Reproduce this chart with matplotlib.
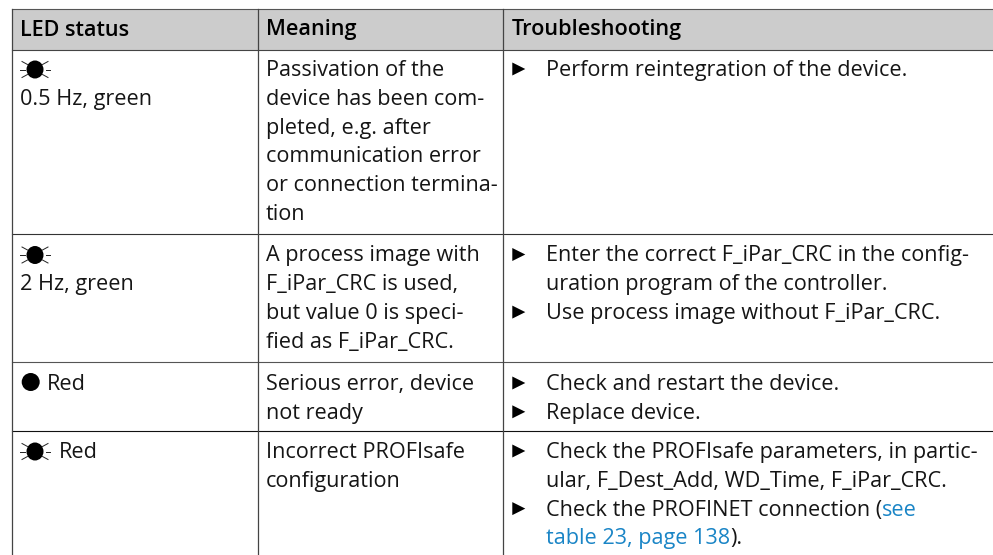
"""LED status table rebuilt as real text on a pixel-sized axes."""

import matplotlib

matplotlib.use("Agg")
import matplotlib.pyplot as plt
from matplotlib.patches import Ellipse, Polygon, Rectangle

plt.rcParams["font.family"] = ["Open Sans", "DejaVu Sans"]

WIDTH, HEIGHT = 993, 555
FONT_SIZE = 15.6
LINE_STEP = 28.8
TEXT_COLOR = "#151515"
LINK = "#1a85c6"

HEADERS = ["LED status", "Meaning", "Troubleshooting"]
STATUS = [
    ["", "0.5 Hz, green"],
    ["", "2 Hz, green"],
    ["Red"],
    ["Red"],
]
MEANING = [
    ["Passivation of the", "device has been com-", "pleted, e.g. after",
     "communication error", "or connection termina-", "tion"],
    ["A process image with", "F_iPar_CRC is used,", "but value 0 is speci-", "fied as F_iPar_CRC."],
    ["Serious error, device", "not ready"],
    ["Incorrect PROFIsafe", "configuration"],
]
# (starts with bullet, text)
TROUBLE = [
    [(True, "Perform reintegration of the device.")],
    [(True, "Enter the correct F_iPar_CRC in the config-"),
     (False, "uration program of the controller."),
     (True, "Use process image without F_iPar_CRC.")],
    [(True, "Check and restart the device."), (True, "Replace device.")],
    [(True, "Check the PROFIsafe parameters, in partic-"),
     (False, "ular, F_Dest_Add, WD_Time, F_iPar_CRC."),
     (True, "Check the PROFINET connection (")],
]
LED_BLINK = [True, True, False, True]

COL_X = [11.5, 257.5, 503]
ROW_Y = [9, 50, 234, 361.7, 431]
ROW_COLORS = ["#555555", "#444444", "#333333", "#555555", "#111111"]
FIRST_BASE = [76, 261.5, 390, 458]
TEXT_PAD = 8.5
BULLET_PAD = 9.3
TROUBLE_PAD = 42.5


def draw_led(ax, x, y, blink):
    if not blink:
        ax.add_patch(Ellipse((x, y), 18, 18, color="black", lw=0))
        return
    ax.add_patch(Ellipse((x, y), 17, 18, color="black", lw=0))
    for sx in (-1, 1):
        ax.plot([x + sx * 10.5, x + sx * 15], [y, y], color="#222222", lw=0.7)
        ax.plot([x + sx * 7.5, x + sx * 13], [y - 5, y - 8], color="#222222", lw=0.7)
        ax.plot([x + sx * 7.5, x + sx * 13], [y + 5, y + 8], color="#222222", lw=0.7)


def put_text(ax, x, y, label, color=TEXT_COLOR, **kwargs):
    return ax.text(x, y, label, fontsize=FONT_SIZE, color=color, va="baseline", **kwargs)


def main():
    fig = plt.figure(figsize=(WIDTH / 100, HEIGHT / 100), dpi=100)
    ax = fig.add_axes([0, 0, 1, 1])
    ax.set_xlim(0, WIDTH)
    ax.set_ylim(HEIGHT, 0)
    ax.axis("off")

    ax.add_patch(Rectangle((COL_X[0], ROW_Y[0]), WIDTH - COL_X[0], ROW_Y[1] - ROW_Y[0],
                           facecolor="#cccccc", edgecolor="none"))
    for y, color in zip(ROW_Y, ROW_COLORS):
        ax.plot([COL_X[0], WIDTH], [y, y], color=color, lw=0.8)
    for x in COL_X:
        ax.plot([x, x], [ROW_Y[0], HEIGHT], color="#444444", lw=0.9)

    for x, label in zip(COL_X, HEADERS):
        put_text(ax, x + TEXT_PAD, 35.5, label, color="black", weight="semibold")

    for row in range(4):
        base = FIRST_BASE[row]
        blink = LED_BLINK[row]
        status = STATUS[row]
        if blink:
            draw_led(ax, COL_X[0] + 23.5, base - 6.5, blink)
        else:
            draw_led(ax, COL_X[0] + 19.2, base - 8, blink)
        for i, line in enumerate(status):
            if not line:
                continue
            x = COL_X[0] + TEXT_PAD
            if len(status) == 1:
                x = COL_X[0] + (47.5 if blink else 35.2)
            put_text(ax, x, base + i * LINE_STEP, line)
        for i, line in enumerate(MEANING[row]):
            put_text(ax, COL_X[1] + TEXT_PAD, base + i * LINE_STEP, line)
        for i, (bullet, line) in enumerate(TROUBLE[row]):
            y = base + i * LINE_STEP
            if bullet:
                x0 = COL_X[2] + BULLET_PAD
                ax.add_patch(Polygon([(x0, y - 13.5), (x0, y - 0.5), (x0 + 13, y - 7)], color="black", lw=0))
            put_text(ax, COL_X[2] + TROUBLE_PAD, y, line)

    # the cross reference in the last row wraps and changes colour
    fig.canvas.draw()
    renderer = fig.canvas.get_renderer()
    y = FIRST_BASE[3] + 2 * LINE_STEP
    lead = [t for t in ax.texts if t.get_text().endswith("(")][0]
    put_text(ax, lead.get_window_extent(renderer).x1 + 0.5, y, "see", color=LINK)
    y += LINE_STEP
    link = put_text(ax, COL_X[2] + TROUBLE_PAD, y, "table 23, page 138", color=LINK)
    put_text(ax, link.get_window_extent(renderer).x1 + 0.5, y, ").")

    fig.savefig("out.png", dpi=100)
    plt.close(fig)


if __name__ == "__main__":
    main()
